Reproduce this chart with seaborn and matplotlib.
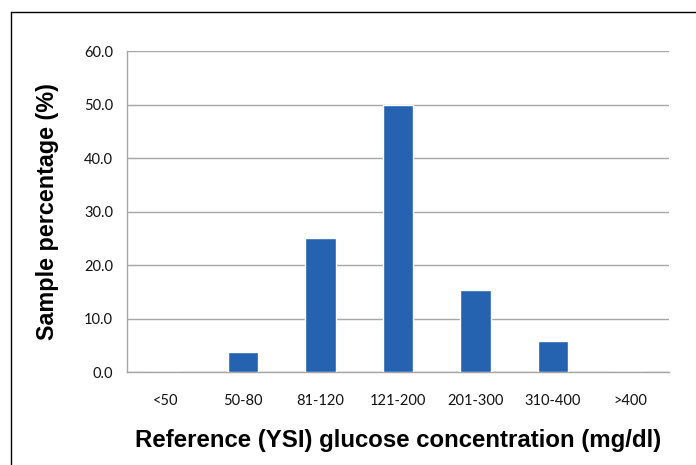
import numpy as np
import pandas as pd
import matplotlib
matplotlib.use('Agg')
import matplotlib.pyplot as plt
from matplotlib.lines import Line2D
from matplotlib.ticker import FixedLocator
import seaborn as sns

# Data
ranges = ['<50', '50-80', '81-120', '121-200', '201-300', '310-400', '>400']
percent = [0.0, 3.8, 25.0, 50.0, 15.4, 5.8, 0.0]
y_ticks = [0, 10, 20, 30, 40, 50, 60]

df = pd.DataFrame({'Range': ranges, 'Percent': percent})

sns.set_style('white')
plt.rcParams['font.family'] = ['Lato', 'DejaVu Sans']

fig = plt.figure(figsize=(6.96, 4.65), dpi=100)
ax = fig.add_axes([127 / 696, 1 - 372 / 465, (669 - 127) / 696, (372 - 51) / 465])

sns.barplot(data=df, x='Range', y='Percent', ax=ax, color='#2562B0',
            saturation=1, width=0.39, zorder=3)

ax.set_ylim(0, 60)
ax.set_xlim(-0.5, len(ranges) - 0.5)
ax.set_yticks(y_ticks)
ax.set_yticklabels([f'{v:.1f}' for v in y_ticks], fontsize=10.5, color='#111111')
ax.set_xticklabels(ranges, fontsize=10.5, color='#111111')
ax.yaxis.grid(True, color='#a6a6a6', linewidth=1, zorder=0)
ax.set_axisbelow(True)

ax.tick_params(axis='x', which='major', length=0, pad=16)
ax.xaxis.set_minor_locator(FixedLocator(np.arange(-0.5, len(ranges), 1)))
ax.tick_params(axis='x', which='minor', length=5, color='#a6a6a6', width=1, direction='out')
ax.tick_params(axis='y', length=5, color='#a6a6a6', width=1, direction='out', pad=5)

for side in ['top', 'right']:
    ax.spines[side].set_visible(False)
for side in ['left', 'bottom']:
    ax.spines[side].set_color('#a6a6a6')
    ax.spines[side].set_linewidth(1)

ax.set_xlabel('Reference (YSI) glucose concentration (mg/dl)', fontsize=17.3,
              fontweight='bold', color='black',
              family=['Liberation Sans', 'DejaVu Sans'], labelpad=15)
ax.set_ylabel('Sample percentage (%)', fontsize=16.8, fontweight='bold', color='black',
              family=['Liberation Sans', 'DejaVu Sans'], labelpad=18)

# frame around the cropped figure (top and left edges)
fig.add_artist(Line2D([11 / 696, 1], [1 - 12 / 465, 1 - 12 / 465], color='black', linewidth=1))
fig.add_artist(Line2D([11 / 696, 11 / 696], [0, 1 - 12 / 465], color='black', linewidth=1))

fig.savefig('out.png', dpi=100)
